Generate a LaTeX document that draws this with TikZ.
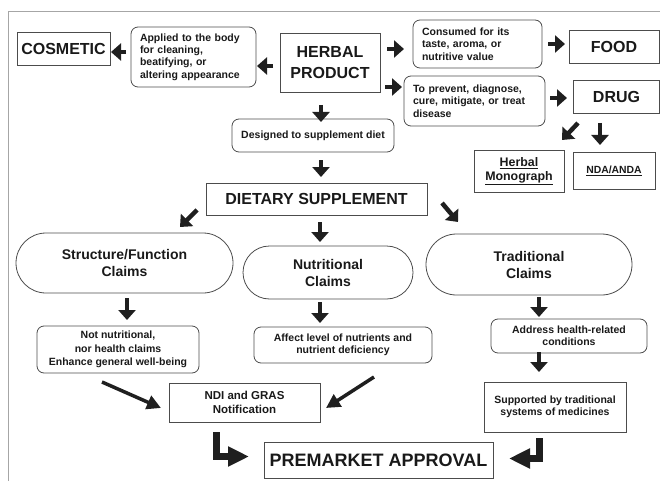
\documentclass[tikz,border=0pt]{standalone}
\usepackage{fontspec}
\setmainfont{Liberation Sans}
\usetikzlibrary{arrows.meta}
\begin{document}
\begin{tikzpicture}[x=1pt,y=-1pt,
  box/.style={draw=black!70, line width=0.8pt, inner sep=0pt, align=center, text=black!90},
  rbox/.style={box, rounded corners=7pt},
  big/.style={font=\fontsize{16}{21}\selectfont\bfseries},
  small/.style={font=\fontsize{10.5}{12.3}\selectfont\bfseries},
  claim/.style={font=\fontsize{14}{17}\selectfont\bfseries},
  fat/.style={line width=4.5pt, draw=black!88, -{Triangle[length=10pt,width=17pt]}},
  longarr/.style={line width=3.5pt, draw=black!88, -{Triangle[length=14pt,width=14pt]}},
  ell/.style={line width=7pt, draw=black!88, line join=miter, -{Triangle[length=21pt,width=19pt]}}
]
\useasboundingbox (0,0) rectangle (660,481);
\draw[black!35, line width=1pt] (8,481) -- (8,12) -- (660,12);

% nodes
\node[box,big,minimum width=93pt,minimum height=33pt] (cosmetic) at (63.5,48.5) {COSMETIC};
\node[rbox,small,align=left,text width=107pt,inner xsep=9pt,minimum height=60pt] (applied) at (193.5,57) {Applied to the body\\for cleaning,\\beatifying, or\\altering appearance};
\node[box,big,minimum width=100pt,minimum height=59pt] (herbal) at (330,62.5) {HERBAL\\PRODUCT};
\node[rbox,small,minimum width=162pt,minimum height=33pt] (designed) at (313,135.5) {Designed to supplement diet};
\node[rbox,small,align=left,text width=111pt,inner xsep=9pt,minimum height=48pt] (consumed) at (477.5,44) {Consumed for its\\taste, aroma, or\\nutritive value};
\node[box,big,minimum width=90pt,minimum height=33pt] (food) at (614,46.5) {FOOD};
\node[rbox,small,align=left,text width=123pt,inner xsep=9pt,minimum height=50pt] (prevent) at (474.5,101) {To prevent, diagnose,\\cure, mitigate, or treat\\disease};
\node[box,big,minimum width=86pt,minimum height=33pt] (drug) at (616.5,96.5) {DRUG};
\node[box,font=\fontsize{12.4}{13.7}\selectfont\bfseries,minimum width=90pt,minimum height=42pt] (mono) at (519,171) {\underline{Herbal}\\\underline{Monograph}};
\node[box,font=\fontsize{10.4}{12}\selectfont\bfseries,minimum width=82pt,minimum height=37pt] (nda) at (614,170.5) {\underline{NDA/ANDA}};
\node[box,big,minimum width=221pt,minimum height=32pt] (diet) at (316.5,199) {DIETARY SUPPLEMENT};
\node[box,claim,minimum width=217pt,minimum height=60pt,rounded corners=30pt] (sf) at (124.5,263) {Structure/Function\\Claims};
\node[box,claim,minimum width=170pt,minimum height=53pt,rounded corners=26.5pt] (nut) at (328,272.5) {Nutritional\\Claims};
\node[box,claim,minimum width=206pt,minimum height=61pt,rounded corners=30.5pt] (trad) at (529,264.5) {Traditional\\Claims};
\node[rbox,font=\fontsize{10.5}{13.5}\selectfont\bfseries,minimum width=162pt,minimum height=47pt] (notnut) at (118,349.5) {Not nutritional,\\nor health claims\\Enhance general well-being};
\node[rbox,small,minimum width=178pt,minimum height=36pt] (affect) at (343,345) {Affect level of nutrients and\\nutrient deficiency};
\node[rbox,small,minimum width=156pt,minimum height=34pt] (address) at (569,336) {Address health-related\\conditions};
\node[box,small,minimum width=142pt,minimum height=50pt] (supported) at (555,407) {Supported by traditional\\systems of medicines};
\node[box,font=\fontsize{11.5}{13.3}\selectfont\bfseries,minimum width=151pt,minimum height=39pt] (ndi) at (244.5,402.5) {NDI and GRAS\\Notification};
\node[box,font=\fontsize{18}{20}\selectfont\bfseries,minimum width=229pt,minimum height=36pt] (pre) at (378.5,460) {PREMARKET APPROVAL};

% arrow end points
\coordinate (a1s) at (273,66);  \coordinate (a1e) at (257,66);
\coordinate (a2s) at (126,52);  \coordinate (a2e) at (111,52);
\coordinate (a3s) at (387,49);  \coordinate (a3e) at (404,49);
\coordinate (a4s) at (548,44);  \coordinate (a4e) at (565,44);
\coordinate (a5s) at (385,87);  \coordinate (a5e) at (402,87);
\coordinate (a6s) at (550,98);  \coordinate (a6e) at (567,98);
\coordinate (a7s) at (578,123); \coordinate (a7e) at (562,140);
\coordinate (a8s) at (600,123); \coordinate (a8e) at (600,145);
\coordinate (a9s) at (321,105); \coordinate (a9e) at (321,122);
\coordinate (a10s) at (321,160); \coordinate (a10e) at (321,177);
\coordinate (a11s) at (197,210); \coordinate (a11e) at (180,227);
\coordinate (a12s) at (320,222); \coordinate (a12e) at (320,242);
\coordinate (a13s) at (442,203); \coordinate (a13e) at (458,222);
\coordinate (a14s) at (127,298); \coordinate (a14e) at (127,320);
\coordinate (a15s) at (320,302); \coordinate (a15e) at (320,323);
\coordinate (a16s) at (539,297); \coordinate (a16e) at (539,317);
\coordinate (a17s) at (539,352); \coordinate (a17e) at (539,372);
\coordinate (a18s) at (102,382); \coordinate (a18e) at (161,408);
\coordinate (a19s) at (374,377); \coordinate (a19e) at (326,408);
\coordinate (a20s) at (216.5,432); \coordinate (a20e) at (249,456.5);
\coordinate (a21s) at (539.5,438); \coordinate (a21e) at (509,458.5);

% arrows
\foreach \i in {1,...,17} {\draw[fat] (a\i s) -- (a\i e);}
\draw[longarr] (a18s) -- (a18e);
\draw[longarr] (a19s) -- (a19e);
\draw[ell] (a20s) |- (a20e);
\draw[ell] (a21s) |- (a21e);
\end{tikzpicture}
\end{document}
